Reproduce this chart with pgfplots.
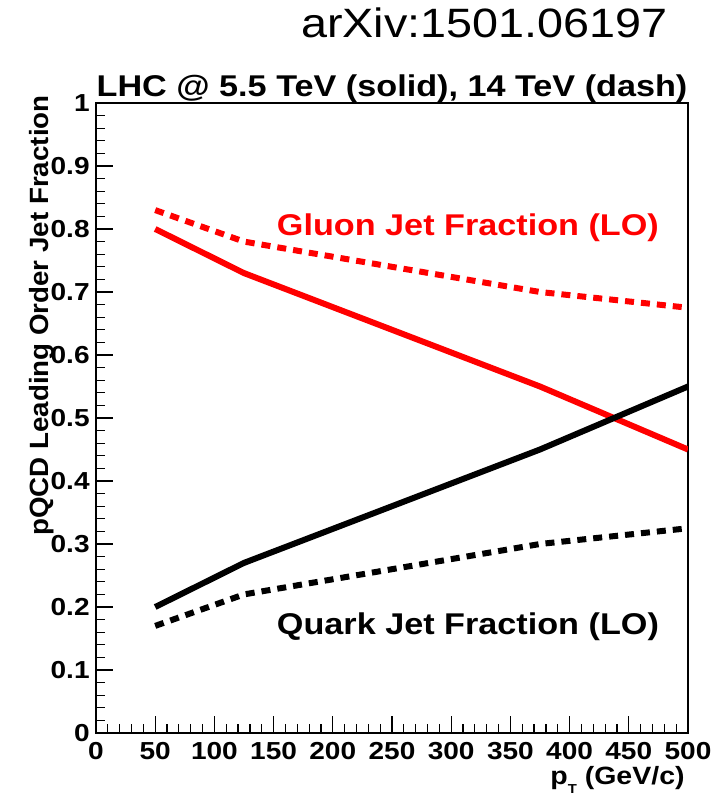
\documentclass[border=0pt]{standalone}
\usepackage{fontspec}
\setmainfont[FakeStretch=1.14]{Liberation Sans}
\newfontfamily\ylabfont[FakeStretch=1.05]{Liberation Sans}
\usepackage{pgfplots}
\pgfplotsset{compat=1.18}
\definecolor{rootred}{RGB}{255,0,0}
\begin{document}
\begin{tikzpicture}
\useasboundingbox (-48pt,-33pt) rectangle (309.5pt,366.5pt);
\begin{axis}[
  at={(0,0)}, anchor=south west,
  scale only axis, width=296pt, height=315pt,
  xmin=0, xmax=500, ymin=0, ymax=1,
  xtick={0,50,...,500},
  ytick={0,0.1,...,1.0},
  yticklabels={0,0.1,0.2,0.3,0.4,0.5,0.6,0.7,0.8,0.9,1},
  minor x tick num=4, minor y tick num=4,
  tick pos=left, tick align=inside,
  major tick length=8.5pt, minor tick length=4.5pt,
  every tick/.style={black, line width=0.6pt},
  axis line style={line width=0.6pt},
  /pgf/number format/assume math mode=true,
  ticklabel style={font=\bfseries\fontsize{12.3}{12.3}\selectfont, inner sep=0pt},
  xticklabel style={anchor=north, yshift=-4.5pt},
  yticklabel style={anchor=east, xshift=-3pt},
  clip mode=individual,
]
\addplot[rootred, line width=3pt] coordinates {(50,0.80) (125,0.73) (375,0.55) (500,0.45)};
\addplot[rootred, line width=3pt, dash pattern=on 4.5pt off 3.5pt] coordinates {(50,0.83) (125,0.78) (375,0.70) (500,0.675)};
\addplot[black, line width=3pt] coordinates {(50,0.20) (125,0.27) (375,0.45) (500,0.55)};
\addplot[black, line width=3pt, dash pattern=on 4.5pt off 3.5pt] coordinates {(50,0.17) (125,0.22) (375,0.30) (500,0.325)};
\node[anchor=base west, inner sep=0pt, text=rootred, font=\bfseries\fontsize{15}{15}\selectfont] at (axis cs:152.5,0.790) {Gluon Jet Fraction (LO)};
\node[anchor=base west, inner sep=0pt, text=black, font=\bfseries\fontsize{15}{15}\selectfont] at (axis cs:152.5,0.1556) {Quark Jet Fraction (LO)};
\end{axis}
\node[anchor=base, inner sep=0pt, font=\bfseries\fontsize{15}{15}\selectfont] at (148pt,318pt) {LHC @ 5.5 TeV (solid), 14 TeV (dash)};
\node[anchor=base east, inner sep=0pt, font=\fontsize{20.5}{20.5}\selectfont] at (286pt,347.5pt) {arXiv:1501.06197};
\node[rotate=90, anchor=base east, inner sep=0pt, font=\ylabfont\bfseries\fontsize{13.2}{13.2}\selectfont] at (-23.5pt,319pt) {pQCD Leading Order Jet Fraction};
\node[anchor=base east, inner sep=0pt, font=\bfseries\fontsize{12.5}{12.5}\selectfont] at (294.5pt,-25.5pt) {p\raisebox{-4.6pt}{\fontsize{6.5}{6.5}\selectfont T} (GeV/c)};
\end{tikzpicture}
\end{document}
